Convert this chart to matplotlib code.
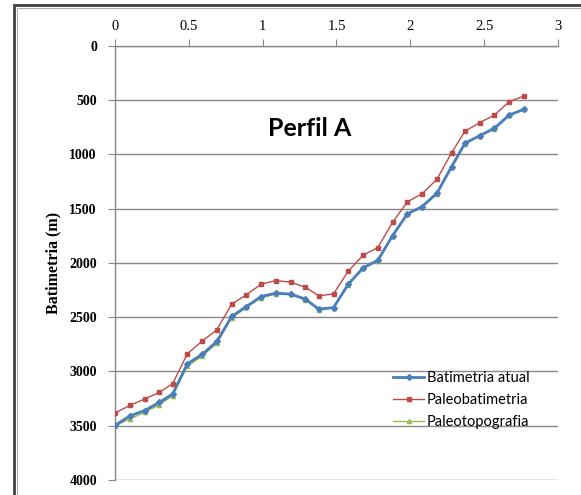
import numpy as np
import matplotlib.pyplot as plt
from matplotlib.patches import Rectangle

# distancia (eixo x) e profundidades (m)
dist = [0, 0.1, 0.2, 0.3, 0.39, 0.49, 0.59, 0.69, 0.79, 0.89, 0.99, 1.09, 1.19, 1.29,
        1.38, 1.48, 1.58, 1.68, 1.78, 1.88, 1.98, 2.08, 2.18, 2.28, 2.37, 2.47, 2.57, 2.67, 2.77]
batim_atual = [3497, 3410, 3360, 3285, 3208, 2929, 2843, 2723, 2493, 2401, 2309, 2278, 2287, 2333,
               2425, 2411, 2195, 2045, 1975, 1747, 1547, 1480, 1357, 1111, 896, 826, 758, 636, 583]
paleobatim = [3383, 3313, 3254, 3193, 3113, 2837, 2720, 2616, 2379, 2293, 2195, 2162, 2177, 2223,
              2303, 2284, 2075, 1928, 1858, 1624, 1437, 1361, 1228, 983, 786, 706, 636, 513, 461]
paleotopo = [3503, 3438, 3377, 3307, 3224, 2950, 2860, 2740, 2505, 2410, 2320, 2285, 2290, 2340,
             2430, 2415, 2200, 2050, 1980, 1752, 1552, 1485, 1362, 1115, 900, 830, 762, 640, 585]

xticks = [0, 0.5, 1, 1.5, 2, 2.5, 3]
xlabels = ['0', '0.5', '1', '1.5', '2', '2.5', '3']
yticks = [0, 500, 1000, 1500, 2000, 2500, 3000, 3500, 4000]

fig = plt.figure(figsize=(5.81, 4.95), dpi=100)
ax = fig.add_axes([0.1979, 0.0303, 0.7625, 0.8768])

# moldura externa
fig.patches.append(Rectangle((14/581, -0.05), 1.2, 1 - 5/495 + 0.05, transform=fig.transFigure,
                             fill=False, edgecolor='#404040', linewidth=2.0, zorder=0))
fig.patches.append(Rectangle((17/581, -0.05), 1.2, 1 - 8/495 + 0.05, transform=fig.transFigure,
                             fill=False, edgecolor='#b0b0b0', linewidth=0.8, zorder=0))

ax.plot(dist, batim_atual, color='#4a7ebb', lw=2.0, marker='D', ms=3, label='Batimetria atual', zorder=3)
ax.plot(dist, paleobatim, color='#be4b48', lw=1.0, marker='s', ms=3, label='Paleobatimetria', zorder=3)
ax.plot(dist, paleotopo, color='#98b954', lw=1.0, marker='^', ms=3, label='Paleotopografia', zorder=2)

ax.set_xlim(0, 3)
ax.set_ylim(4000, 0)
ax.xaxis.tick_top()
ax.set_xticks(xticks)
ax.set_xticklabels(xlabels, family='Liberation Serif', fontsize=10.5)
ax.set_yticks(yticks)
ax.set_yticklabels([str(v) for v in yticks], family='Liberation Serif', fontsize=10, fontweight='bold')
ax.tick_params(axis='x', direction='out', length=5, color='#888888', pad=4)
ax.tick_params(axis='y', direction='out', length=5, color='#888888', pad=8)

ax.grid(axis='y', color='#888888', lw=1.0)
for s in ['right', 'bottom']:
    ax.spines[s].set_visible(False)
for s in ['left', 'top']:
    ax.spines[s].set_color('#888888')
    ax.spines[s].set_linewidth(1.0)

ax.set_ylabel('Batimetria (m)', family='Liberation Serif', fontsize=11.5, fontweight='bold', labelpad=6)

ax.text(1.32, 760, 'Perfil A', family='Lato', fontweight='bold', fontsize=18, ha='center', va='center')

leg = ax.legend(loc='upper left', bbox_to_anchor=(0.615, 0.265), frameon=False,
                prop={'family': 'Lato', 'size': 10.5}, handlelength=2.1, handletextpad=0.2,
                labelspacing=0.55, borderaxespad=0)

fig.savefig('out.png', dpi=100)
